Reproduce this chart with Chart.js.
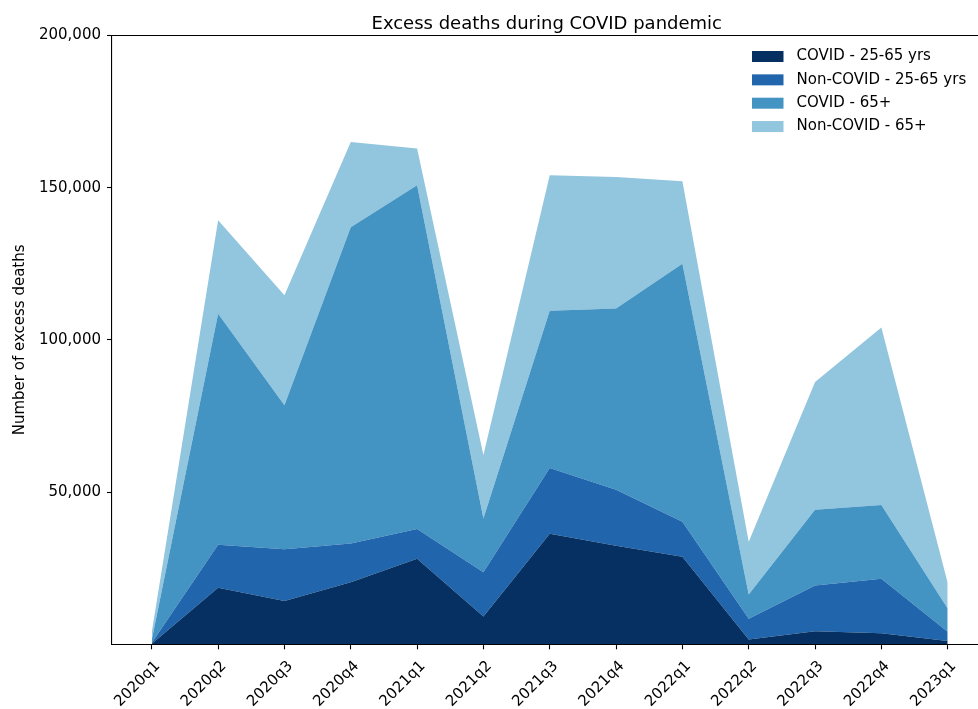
<!DOCTYPE html>
<html>
<head>
<meta charset="utf-8">
<title>Excess deaths during COVID pandemic</title>
<script src="https://cdn.jsdelivr.net/npm/chart.js@4/dist/chart.umd.min.js"></script>
<style>
  html, body { margin: 0; padding: 0; background: #fff; overflow: hidden; }
  canvas { display: block; }
</style>
</head>
<body>
<canvas id="chart" width="978" height="709"></canvas>
<script>
// Quarterly excess deaths, split by cause and age band
const quarters = ['2020q1', '2020q2', '2020q3', '2020q4', '2021q1', '2021q2', '2021q3',
                  '2021q4', '2022q1', '2022q2', '2022q3', '2022q4', '2023q1'];

const covid2565    = [200, 18600, 14200, 20400, 28100, 9100, 36300, 32400, 28800, 1600, 4300, 3600, 1100];
const nonCovid2565 = [300, 14100, 17000, 12700, 9800, 14600, 21600, 18400, 11500, 6800, 15000, 17900, 3000];
const covid65      = [1000, 75900, 47300, 103900, 112900, 17600, 51700, 59500, 84700, 8000, 24900, 24300, 7700];
const nonCovid65   = [2500, 30700, 36200, 28000, 12100, 20900, 44500, 43200, 27100, 17300, 42000, 58300, 8400];

const seriesNames = ['COVID - 25-65 yrs', 'Non-COVID - 25-65 yrs', 'COVID - 65+', 'Non-COVID - 65+'];
const yTickValues = [50000, 100000, 150000, 200000];

const chartTitle = 'Excess deaths during COVID pandemic';
const yAxisTitle = 'Number of excess deaths';

const FONT = "'DejaVu Sans', sans-serif";
const colors = ['#053061', '#2166ac', '#4393c3', '#92c5de'];

const toPoints = arr => arr.map((v, i) => ({ x: i, y: v }));
const seriesValues = [covid2565, nonCovid2565, covid65, nonCovid65];

const datasets = seriesValues.map((vals, k) => ({
  label: seriesNames[k],
  data: toPoints(vals),
  backgroundColor: colors[k],
  borderColor: colors[k],
  borderWidth: 0,
  pointRadius: 0,
  pointHoverRadius: 0,
  tension: 0,
  fill: k === 0 ? 'origin' : '-1'
}));

// Title, top spine and legend drawn onto the canvas
const decorations = {
  id: 'decorations',
  afterDraw(chart) {
    const { ctx, chartArea, scales } = chart;
    ctx.save();

    // top spine
    ctx.strokeStyle = '#000';
    ctx.lineWidth = 1.1;
    ctx.beginPath();
    ctx.moveTo(chartArea.left, chartArea.top);
    ctx.lineTo(chartArea.right, chartArea.top);
    ctx.stroke();

    // title centred over the axes
    ctx.fillStyle = '#000';
    ctx.font = `18px ${FONT}`;
    ctx.textAlign = 'center';
    ctx.textBaseline = 'alphabetic';
    ctx.fillText(chartTitle, scales.x.getPixelForValue((quarters.length - 1) / 2) - 3, 28.5);

    // legend, upper right
    ctx.font = `15px ${FONT}`;
    ctx.textAlign = 'left';
    ctx.textBaseline = 'middle';
    chart.data.datasets.forEach((ds, i) => {
      const cy = 56.5 + i * 23.35;
      ctx.fillStyle = ds.backgroundColor;
      ctx.fillRect(752, cy - 5.5, 31.5, 11);
      ctx.fillStyle = '#000';
      ctx.fillText(ds.label, 796.5, cy);
    });
    ctx.restore();
  }
};

Chart.defaults.font.family = FONT;
Chart.defaults.color = '#000';

new Chart(document.getElementById('chart'), {
  type: 'line',
  data: { datasets },
  plugins: [decorations],
  options: {
    responsive: false,
    animation: false,
    events: [],
    layout: { padding: { top: 35.5, right: 0, bottom: 0, left: 0 } },
    plugins: {
      legend: { display: false },
      title: { display: false },
      tooltip: { enabled: false }
    },
    scales: {
      x: {
        type: 'linear',
        min: -0.6,
        max: 12.457,
        afterBuildTicks: scale => { scale.ticks = quarters.map((q, i) => ({ value: i })); },
        afterFit: scale => { scale.height = 64.7; },
        ticks: {
          autoSkip: false,
          minRotation: 45,
          maxRotation: 45,
          labelOffset: 6,
          padding: 8,
          font: { size: 15 },
          color: '#000',
          callback: v => quarters[v]
        },
        grid: {
          drawOnChartArea: false,
          drawTicks: true,
          tickLength: 5,
          tickWidth: 1.1,
          tickColor: '#000'
        },
        border: { display: true, color: '#000', width: 1.1 }
      },
      y: {
        stacked: true,
        min: 0,
        max: 200000,
        afterBuildTicks: scale => { scale.ticks = yTickValues.map(v => ({ value: v })); },
        afterFit: scale => { scale.width = 112; },
        ticks: {
          padding: 6,
          font: { size: 15 },
          color: '#000',
          callback: v => v.toLocaleString('en-US')
        },
        grid: {
          drawOnChartArea: false,
          drawTicks: true,
          tickLength: 5,
          tickWidth: 1.1,
          tickColor: '#000'
        },
        border: { display: true, color: '#000', width: 1.1 },
        title: {
          display: true,
          text: yAxisTitle,
          font: { size: 15 },
          color: '#000',
          padding: { top: 11, bottom: 0 }
        }
      }
    }
  }
});
</script>
</body>
</html>
